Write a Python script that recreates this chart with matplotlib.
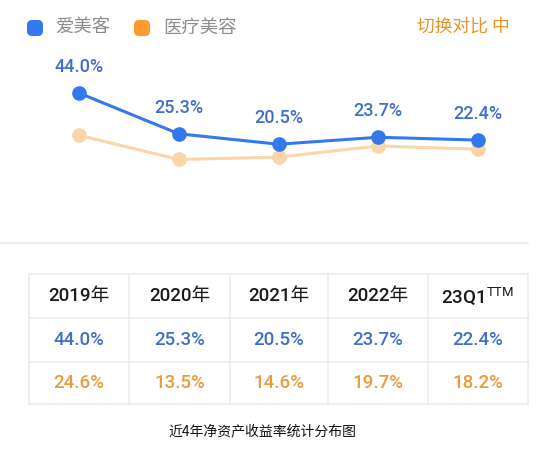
import matplotlib
matplotlib.use("Agg")
import matplotlib.pyplot as plt
from matplotlib.patches import FancyBboxPatch

plt.rcParams['font.family'] = ['Roboto', 'Noto Sans CJK SC', 'DejaVu Sans']
plt.rcParams['mathtext.fontset'] = 'custom'
plt.rcParams['mathtext.rm'] = 'Roboto'
plt.rcParams['mathtext.it'] = 'Roboto'
plt.rcParams['mathtext.bf'] = 'Roboto:medium'

periods = ["2019年", "2020年", "2021年", "2022年", r"23Q1$^{\mathrm{TTM}}$"]
aimeike = [44.0, 25.3, 20.5, 23.7, 22.4]
medical = [24.6, 13.5, 14.6, 19.7, 18.2]
series_names = ["爱美客", "医疗美容"]
toggle_label = "切换对比 中"
caption = "近4年净资产收益率统计分布图"

W, H = 554, 449
fig = plt.figure(figsize=(W / 100, H / 100), dpi=100)
fig.patch.set_facecolor("white")

BLUE = "#3478ee"
BLUE_TXT = "#3e6fcb"
ORANGE = "#ff9a2e"
ORANGE_LIGHT = "#fbd4a8"
ORANGE_TXT = "#ea9b3e"
GRID = "#ececec"

# background pixel axes
bg = fig.add_axes([0, 0, 1, 1])
bg.set_xlim(0, W)
bg.set_ylim(H, 0)
bg.axis("off")

# line chart axes
x0, x1 = 29, 528
k = 2.18
ybot = 93 + 44 * k
ytop = ybot - 50 * k
ax = fig.add_axes([x0 / W, 1 - ybot / H, (x1 - x0) / W, (ybot - ytop) / H])
ax.set_xlim(-0.5, len(periods) - 0.5)
ax.set_ylim(0, 50)
ax.axis("off")
xs = list(range(len(periods)))
ax.plot(xs, medical, color=ORANGE_LIGHT, lw=2.2, marker="o", ms=9.5,
        mec=ORANGE_LIGHT, mfc=ORANGE_LIGHT, clip_on=False, zorder=2)
ax.plot(xs, aimeike, color=BLUE, lw=2.2, marker="o", ms=9.5,
        mec=BLUE, mfc=BLUE, clip_on=False, zorder=3)
for x, v in zip(xs, aimeike):
    ax.annotate(f"{v:.1f}%", (x, v), xytext=(0, 26), textcoords="offset pixels",
                ha="center", va="center", fontsize=13, color=BLUE_TXT,
                fontweight="medium", family=['Roboto', 'DejaVu Sans'])

# legend
for cx, col, name, tx in [(35, BLUE, series_names[0], 55), (142, ORANGE, series_names[1], 163)]:
    bg.add_patch(FancyBboxPatch((cx - 8, 28 - 8), 16, 16,
                                boxstyle="round,pad=0,rounding_size=5",
                                fc=col, ec="none"))
    bg.text(tx, 28, name, ha="left", va="center", fontsize=13.2, color="#8c8c8c",
            family=['Noto Sans CJK SC'])

# toggle label, clipped on the right
tog = fig.add_axes([400 / W, 1 - 45 / H, (511 - 400) / W, 35 / H])
tog.set_xlim(400, 511)
tog.set_ylim(45, 10)
tog.axis("off")
tog.text(417, 27, toggle_label, ha="left", va="center", fontsize=12.8,
         color="#e8922a", fontweight="medium", family=['Noto Sans CJK SC'],
         clip_on=True)

# separator
bg.plot([0, 528], [243, 243], color="#efefef", lw=1.5)

# table
cols = [29, 129, 230, 328, 428, 528]
rows = [274, 318, 362, 404]
for c in cols:
    bg.plot([c, c], [rows[0], rows[-1]], color=GRID, lw=1.2)
for r in rows:
    bg.plot([cols[0], cols[-1]], [r, r], color=GRID, lw=1.2)

for i in range(len(periods)):
    cx = (cols[i] + cols[i + 1]) / 2
    bg.text(cx, (rows[0] + rows[1]) / 2, periods[i], ha="center", va="center",
            fontsize=13.5, color="#1a1a1a", fontweight="medium",
            family=['Roboto', 'Noto Sans CJK SC', 'DejaVu Sans'])
    bg.text(cx, (rows[1] + rows[2]) / 2, f"{aimeike[i]:.1f}%", ha="center",
            va="center", fontsize=13.5, color=BLUE_TXT, fontweight="medium",
            family=['Roboto'])
    bg.text(cx, (rows[2] + rows[3]) / 2, f"{medical[i]:.1f}%", ha="center",
            va="center", fontsize=13.5, color=ORANGE_TXT, fontweight="medium",
            family=['Roboto'])

bg.text(262, 431, caption, ha="center", va="center", fontsize=10,
        color="#111111", fontweight="medium",
        family=['Noto Sans CJK SC', 'DejaVu Sans'])

fig.savefig("out.png", dpi=100, facecolor="white")
